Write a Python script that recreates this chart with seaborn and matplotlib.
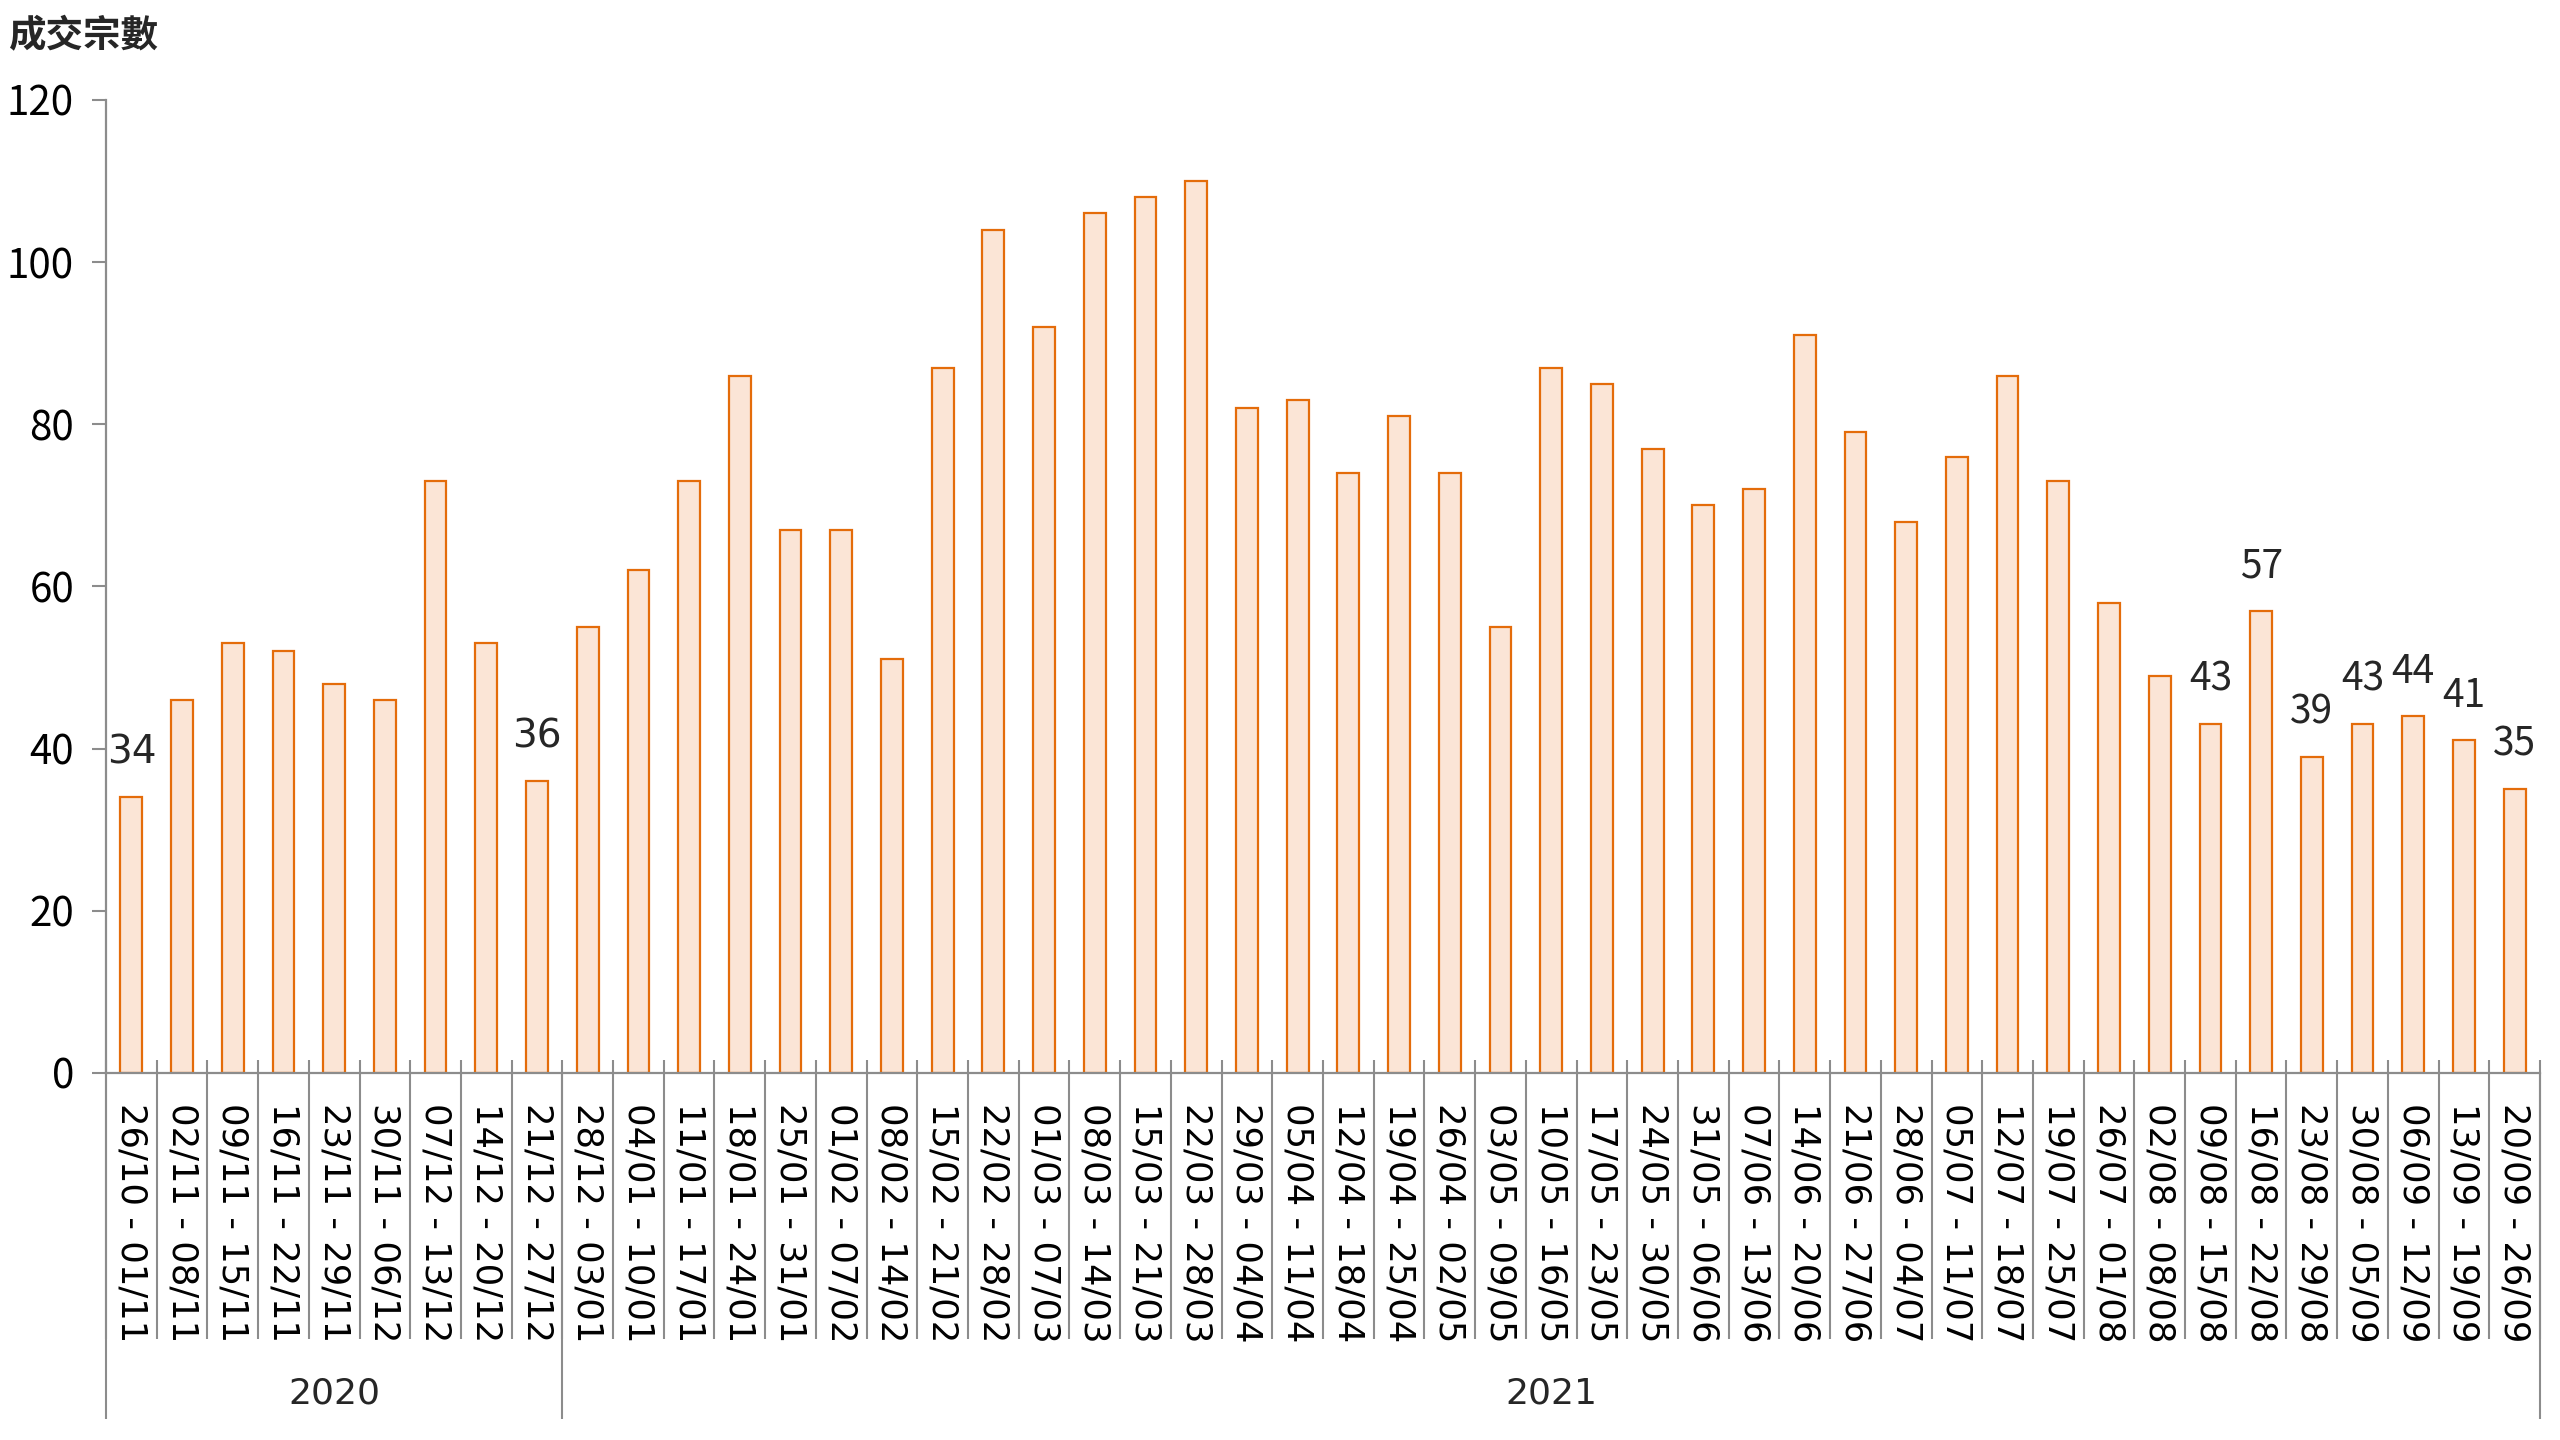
import numpy as np
import matplotlib
matplotlib.use("Agg")
import matplotlib.pyplot as plt
import seaborn as sns

# weekly transactions, 26/10/2020 - 26/09/2021
weeks = [
    "26/10 - 01/11", "02/11 - 08/11", "09/11 - 15/11", "16/11 - 22/11",
    "23/11 - 29/11", "30/11 - 06/12", "07/12 - 13/12", "14/12 - 20/12",
    "21/12 - 27/12", "28/12 - 03/01", "04/01 - 10/01", "11/01 - 17/01",
    "18/01 - 24/01", "25/01 - 31/01", "01/02 - 07/02", "08/02 - 14/02",
    "15/02 - 21/02", "22/02 - 28/02", "01/03 - 07/03", "08/03 - 14/03",
    "15/03 - 21/03", "22/03 - 28/03", "29/03 - 04/04", "05/04 - 11/04",
    "12/04 - 18/04", "19/04 - 25/04", "26/04 - 02/05", "03/05 - 09/05",
    "10/05 - 16/05", "17/05 - 23/05", "24/05 - 30/05", "31/05 - 06/06",
    "07/06 - 13/06", "14/06 - 20/06", "21/06 - 27/06", "28/06 - 04/07",
    "05/07 - 11/07", "12/07 - 18/07", "19/07 - 25/07", "26/07 - 01/08",
    "02/08 - 08/08", "09/08 - 15/08", "16/08 - 22/08", "23/08 - 29/08",
    "30/08 - 05/09", "06/09 - 12/09", "13/09 - 19/09", "20/09 - 26/09",
]
counts = [
    34, 46, 53, 52, 48, 46, 73, 53, 36,
    55, 62, 73, 86, 67, 67, 51, 87, 104, 92, 106, 108, 110,
    82, 83, 74, 81, 74, 55, 87, 85, 77, 70, 72, 91, 79, 68,
    76, 86, 73, 58, 49, 43, 57, 39, 43, 44, 41, 35,
]
years = ["2020", "2021"]
year_sizes = [9, 39]
labelled = [0, 8, 41, 42, 43, 44, 45, 46, 47]

FILL = "#FBE5D6"
EDGE = "#E46C0A"
GREY = "#8C8C8C"
CJK = ["Noto Sans CJK TC", "DejaVu Sans"]

sns.set_theme(style="white")
plt.rcParams["font.family"] = CJK

fig = plt.figure(figsize=(25.6, 14.4), dpi=100)
ax = fig.add_axes([0.0414, 0.2549, 0.9508, 0.6757])

sns.barplot(x=weeks, y=counts, color=FILL, saturation=1, width=0.43,
            edgecolor=EDGE, linewidth=1.6, ax=ax)

n = len(weeks)
ax.set_xlim(-0.5, n - 0.5)
ax.set_ylim(0, 120)
ax.set_yticks(range(0, 121, 20))
ax.set_xticks(range(n))
ax.set_xticklabels(weeks, rotation=270, fontsize=25.5, family="DejaVu Sans")
ax.set_xlabel("")
ax.set_ylabel("")
ax.tick_params(axis="y", left=True, direction="out", length=10, width=1.5,
               color=GREY, labelsize=29, pad=13, labelcolor="black")
ax.tick_params(axis="x", bottom=False, pad=16, labelcolor="black")

for s in ["top", "right"]:
    ax.spines[s].set_visible(False)
for s in ["left", "bottom"]:
    ax.spines[s].set_color(GREY)
    ax.spines[s].set_linewidth(1.6)

# category boundary ticks and year separators
tr = ax.get_xaxis_transform()
bounds = np.arange(n + 1) - 0.5
ax.vlines(bounds, -0.273, 0.0134, transform=tr, colors=GREY, lw=1.5, clip_on=False)
edges = np.cumsum([0] + year_sizes) - 0.5
ax.vlines(edges, -0.356, 0, transform=tr, colors=GREY, lw=1.5, clip_on=False)
for yr, left, size in zip(years, edges[:-1], year_sizes):
    ax.text(left + size / 2, -0.329, yr, transform=tr, ha="center", va="center",
            fontsize=26, family="DejaVu Sans")

for i in labelled:
    fam = "DejaVu Sans" if i < year_sizes[0] else CJK
    ax.annotate(str(counts[i]), (i, counts[i]), xytext=(0, 24),
                textcoords="offset points", ha="center", va="baseline",
                fontsize=28, family=fam)

fig.text(0.003, 1 - 36 / 1440, "成交宗數", fontsize=27, ha="left", va="center",
         fontweight="bold")

fig.savefig("out.png", dpi=100)
